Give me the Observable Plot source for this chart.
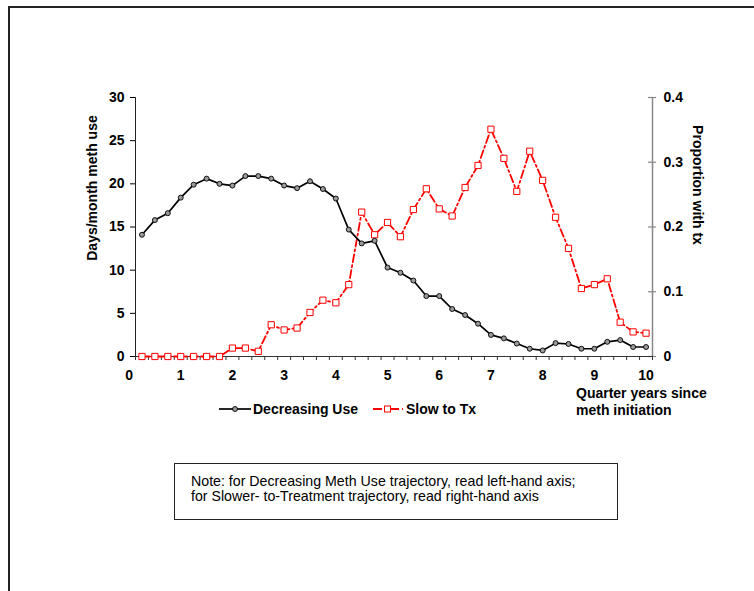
<!DOCTYPE html>
<html>
<head>
<meta charset="utf-8">
<script src="https://cdn.jsdelivr.net/npm/d3@7"></script>
<script src="https://cdn.jsdelivr.net/npm/@observablehq/plot@0.6"></script>
<style>
  html, body { margin: 0; padding: 0; background: #fff; }
  #wrap { position: relative; width: 754px; height: 591px; overflow: hidden; font-family: "Liberation Sans", Arial, sans-serif; }
  #frame { position: absolute; left: 8px; top: 6px; width: 800px; height: 700px; border: 2px solid #222; box-sizing: border-box; }
  .abs { position: absolute; white-space: nowrap; color: #000; }
  .bold { font-weight: bold; font-size: 14px; }
  #note { position: absolute; left: 174px; top: 463px; width: 444px; height: 57px; box-sizing: border-box; border: 1.5px solid #222; padding: 9.5px 0 0 16px; font-size: 14.2px; line-height: 15px; }
  #wrap > svg { position: absolute; left: 0; top: 0; }
</style>
</head>
<body>
<div id="wrap">
  <div id="frame"></div>
</div>
<script>
// Quarter-year positions (x) of each observation
const quarters = [0.25, 0.5, 0.75, 1, 1.25, 1.5, 1.75, 2, 2.25, 2.5, 2.75, 3, 3.25, 3.5, 3.75, 4,
  4.25, 4.5, 4.75, 5, 5.25, 5.5, 5.75, 6, 6.25, 6.5, 6.75, 7, 7.25, 7.5, 7.75, 8,
  8.25, 8.5, 8.75, 9, 9.25, 9.5, 9.75, 10];
// Decreasing Use: days/month meth use (left axis)
const decreasingUse = [14.1, 15.8, 16.6, 18.4, 19.9, 20.6, 20.0, 19.8, 20.9, 20.9, 20.6, 19.8,
  19.5, 20.3, 19.4, 18.3, 14.7, 13.1, 13.4, 10.3, 9.7, 8.8, 7.0, 7.0, 5.5, 4.8, 3.8, 2.5,
  2.1, 1.5, 0.9, 0.7, 1.55, 1.45, 0.9, 0.9, 1.7, 1.9, 1.1, 1.1];
// Slow to Tx: proportion with treatment (right axis)
const slowToTx = [0, 0, 0, 0, 0, 0, 0, 0.013, 0.013, 0.008, 0.049, 0.041, 0.044, 0.068, 0.087, 0.083,
  0.111, 0.223, 0.188, 0.207, 0.185, 0.227, 0.259, 0.228, 0.217, 0.261, 0.295, 0.351,
  0.306, 0.255, 0.317, 0.272, 0.215, 0.167, 0.105, 0.111, 0.120, 0.053, 0.038, 0.036];

const xTickLabels = [0, 1, 2, 3, 4, 5, 6, 7, 8, 9, 10];
const leftTicks = [0, 5, 10, 15, 20, 25, 30];
const rightTicks = [0, 0.1, 0.2, 0.3, 0.4];

const leftMax = 30, rightMax = 0.4;
const RATIO = leftMax / rightMax;
const xMin = 0.125, xMax = 10.125;
const xMinorTicks = d3.range(0, 41).map(k => xMin + k * 0.25);

const W = 754, H = 591, mL = 135, mR = 102, mT = 97, mB = 235;
// pixel -> data-unit helpers for tick-mark lengths
const pxX = (xMax - xMin) / (W - mL - mR);
const pxY = leftMax / (H - mT - mB);

const rows = quarters.map((q, i) => ({q, use: decreasingUse[i], tx: slowToTx[i] * RATIO}));

const font = "Liberation Sans, Arial, sans-serif";

const chart = Plot.plot({
  width: W,
  height: H,
  marginLeft: mL,
  marginRight: mR,
  marginTop: mT,
  marginBottom: mB,
  style: {fontFamily: font, fontWeight: "bold", fontSize: "14px", background: "transparent", overflow: "visible", color: "#000"},
  x: {domain: [xMin, xMax], axis: null},
  y: {domain: [0, leftMax], ticks: leftTicks, tickSize: 5, tickPadding: 6, label: null, tickFormat: d => String(d)},
  marks: [
    // left axis line
    Plot.ruleX([xMin], {stroke: "#222", strokeWidth: 1}),
    // right axis (gray, crossing ticks)
    Plot.ruleX([xMax], {stroke: "#888", strokeWidth: 1.5}),
    Plot.ruleY(rightTicks, {y: d => d * RATIO, x1: xMax - 4 * pxX, x2: xMax + 4 * pxX, stroke: "#888", strokeWidth: 1.2}),
    Plot.text(rightTicks, {y: d => d * RATIO, text: d => String(d), frameAnchor: "right", dx: 11, textAnchor: "start", lineAnchor: "middle", fill: "#000"}),
    // x axis
    Plot.ruleY([0], {stroke: "#333", strokeWidth: 1}),
    Plot.ruleX(xMinorTicks, {y1: 0, y2: -4 * pxY, stroke: "#333", strokeWidth: 1}),
    Plot.text(xTickLabels, {x: d => d, text: d => String(d), frameAnchor: "bottom", dy: 19, lineAnchor: "middle", fill: "#000"}),
    // Slow to Tx
    Plot.line(rows, {x: "q", y: "tx", stroke: "#ff0000", strokeWidth: 1.8, strokeDasharray: "8,3,2,3"}),
    Plot.dot(rows, {x: "q", y: "tx", symbol: "square", r: 3.5, stroke: "#ff0000", fill: "white", strokeWidth: 1}),
    // Decreasing Use
    Plot.line(rows, {x: "q", y: "use", stroke: "#000", strokeWidth: 1.7}),
    Plot.dot(rows, {x: "q", y: "use", r: 2.5, fill: "#9a9a9a", stroke: "#000", strokeWidth: 0.9})
  ]
});

const wrap = document.getElementById("wrap");
wrap.appendChild(chart);

function addDiv(html, style, cls) {
  const d = document.createElement("div");
  d.className = cls || "abs";
  d.innerHTML = html;
  Object.assign(d.style, style);
  wrap.appendChild(d);
  return d;
}

// Axis titles
addDiv("Days/month meth use", {left: "91.7px", top: "188px", transform: "translate(-50%,-50%) rotate(-90deg)"}, "abs bold");
addDiv("Proportion with tx", {left: "698px", top: "185px", transform: "translate(-50%,-50%) rotate(90deg)"}, "abs bold");
addDiv("Quarter years since<br>meth initiation", {left: "576px", top: "385px", lineHeight: "17px"}, "abs bold");

// Legend
addDiv('<svg width="34" height="12" style="display:block"><line x1="0" y1="6" x2="32" y2="6" stroke="#000" stroke-width="1.7"/><circle cx="16" cy="6" r="2.5" fill="#9a9a9a" stroke="#000" stroke-width="0.9"/></svg>',
  {left: "219px", top: "403px"});
addDiv("Decreasing Use", {left: "253px", top: "401px"}, "abs bold");
addDiv('<svg width="34" height="12" style="display:block"><line x1="0" y1="6" x2="30" y2="6" stroke="#ff0000" stroke-width="1.8" stroke-dasharray="9,3,2,3"/><rect x="11.5" y="3" width="6" height="6" fill="white" stroke="#ff0000" stroke-width="1"/></svg>',
  {left: "373px", top: "403px"});
addDiv("Slow to Tx", {left: "406px", top: "401px"}, "abs bold");

// Note box
const note = document.createElement("div");
note.id = "note";
note.innerHTML = "Note: for Decreasing Meth Use trajectory, read left-hand axis;<br>for Slower- to-Treatment trajectory, read right-hand axis";
wrap.appendChild(note);
</script>
</body>
</html>
